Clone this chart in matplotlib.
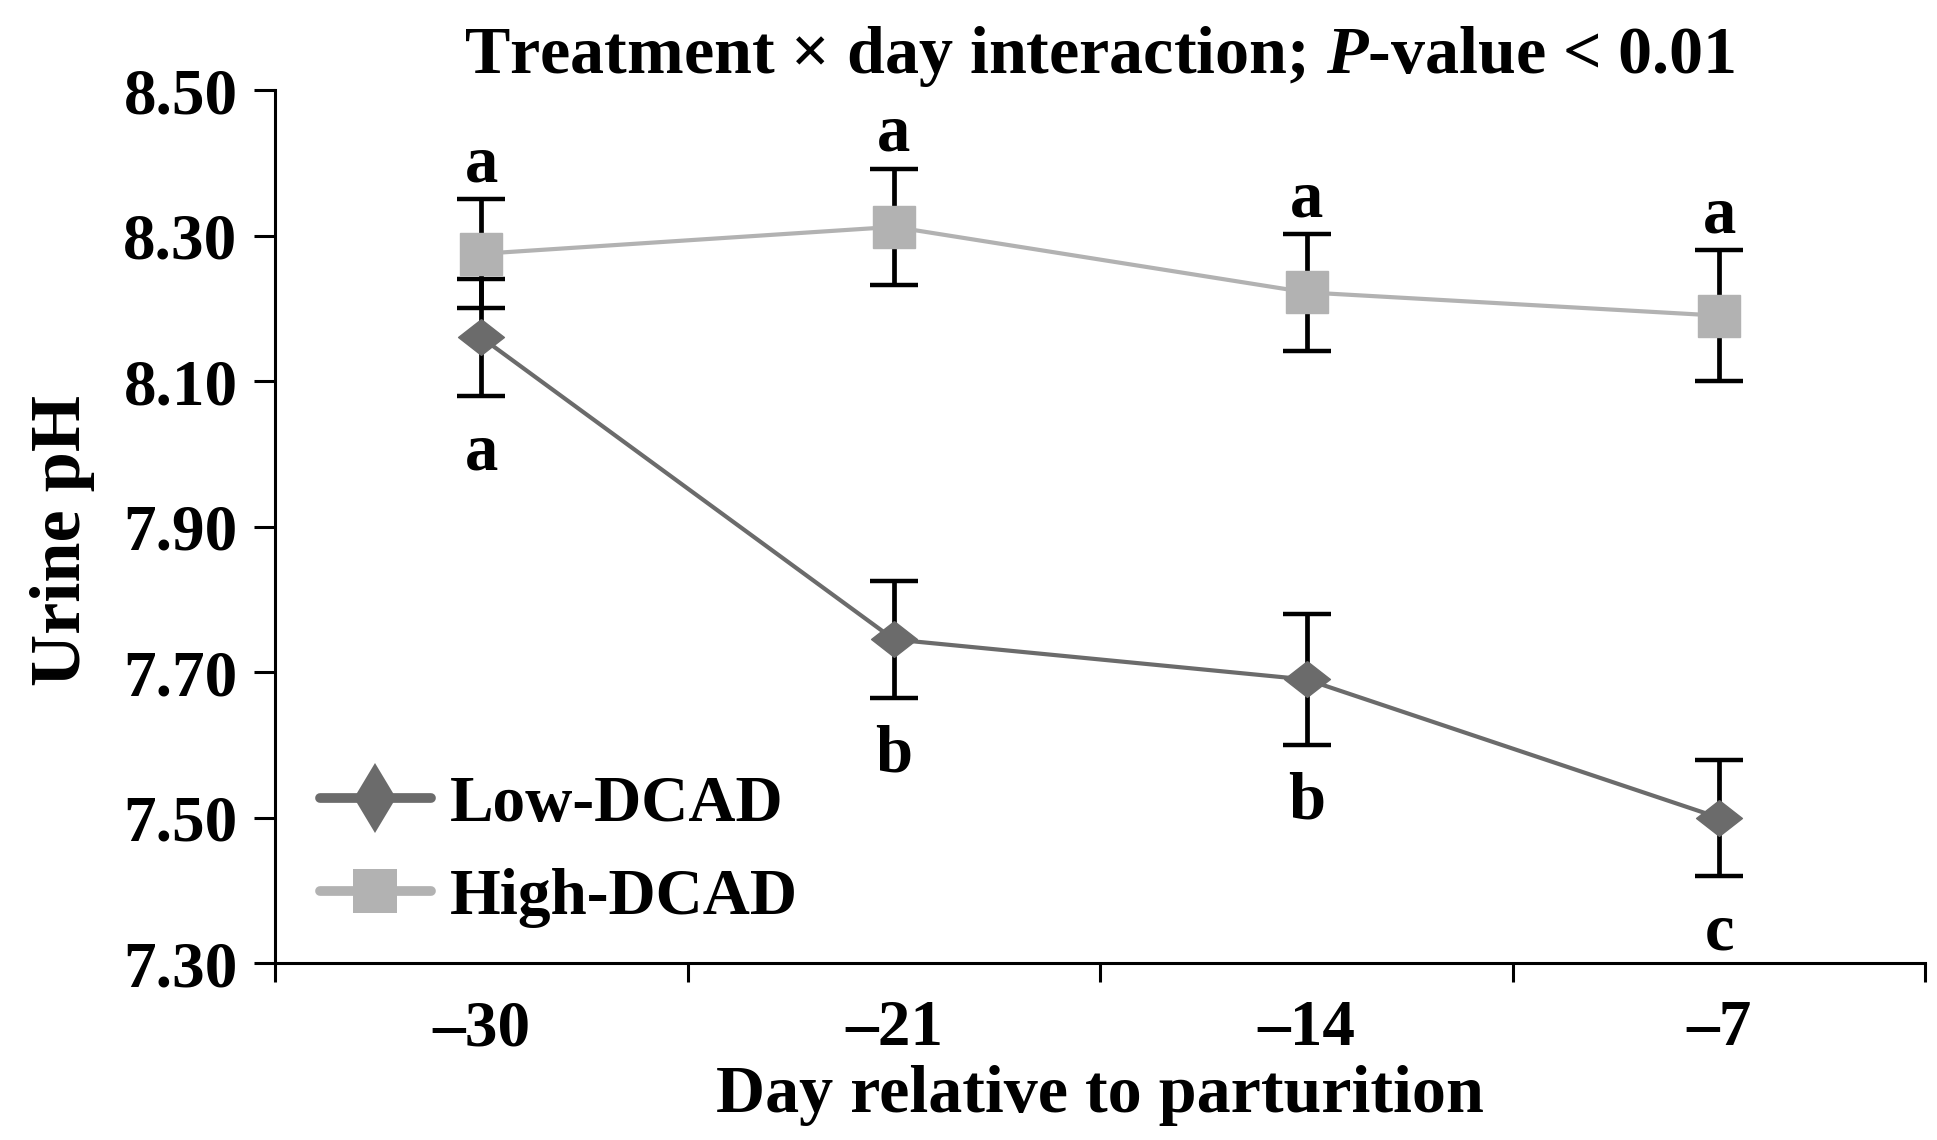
import matplotlib
matplotlib.use("Agg")
import matplotlib.pyplot as plt
from matplotlib.lines import Line2D

# ---- data ----
days = ["\u201330", "\u201321", "\u201314", "\u20137"]
low_mean = [8.16, 7.745, 7.69, 7.50]
low_se = [0.08, 0.08, 0.09, 0.08]
high_mean = [8.275, 8.312, 8.222, 8.19]
high_se = [0.075, 0.08, 0.08, 0.09]
low_letters = ["a", "b", "b", "c"]
high_letters = ["a", "a", "a", "a"]
y_ticks = [7.30, 7.50, 7.70, 7.90, 8.10, 8.30, 8.50]

plt.rcParams["font.family"] = "Liberation Serif"
plt.rcParams["font.weight"] = "bold"
plt.rcParams["mathtext.fontset"] = "custom"
plt.rcParams["mathtext.it"] = "Liberation Serif:bold:italic"
plt.rcParams["mathtext.rm"] = "Liberation Serif:bold"

low_col = "#6b6b6b"
high_col = "#b2b2b2"

fig = plt.figure(figsize=(19.37, 11.40), dpi=100)
ax = fig.add_axes([0.142, 0.155, 0.852, 0.766])

x = list(range(len(days)))
diamond = [(0, 0.78), (1, 0), (0, -0.78), (-1, 0), (0, 0.78)]

# low series
ax.plot(x, low_mean, color=low_col, lw=3, zorder=2)
ax.errorbar(x, low_mean, yerr=low_se, fmt="none", ecolor="black",
            elinewidth=3.4, capsize=17, capthick=3.2, zorder=3)
ax.plot(x, low_mean, ls="none", marker=diamond, ms=33, color=low_col, zorder=4)

# high series
ax.plot(x, high_mean, color=high_col, lw=3, zorder=5)
ax.errorbar(x, high_mean, yerr=high_se, fmt="none", ecolor="black",
            elinewidth=3.4, capsize=17, capthick=3.2, zorder=6)
ax.plot(x, high_mean, ls="none", marker="s", ms=30, color=high_col, zorder=7)

for xi, m, s, t in zip(x, high_mean, high_se, high_letters):
    ax.annotate(t, (xi, m + s), xytext=(0, 13), textcoords="offset points",
                ha="center", va="baseline", fontsize=48, fontweight="bold")
for xi, m, s, t in zip(x, low_mean, low_se, low_letters):
    ax.annotate(t, (xi, m - s), xytext=(0, -19), textcoords="offset points",
                ha="center", va="top", fontsize=48, fontweight="bold")

ax.set_xlim(-0.5, len(days) - 0.5)
ax.set_ylim(7.30, 8.50)
ax.set_yticks(y_ticks)
ax.set_yticklabels([f"{v:.2f}" for v in y_ticks])
ax.set_xticks([i - 0.5 for i in range(len(days) + 1)])
ax.set_xticklabels([])
ax.set_xticks(x, minor=True)
ax.set_xticklabels(days, minor=True)
ax.tick_params(axis="x", which="major", direction="out", length=14, width=2.2)
ax.tick_params(axis="x", which="minor", length=0, pad=26, labelsize=47)
ax.tick_params(axis="y", direction="out", length=15, width=2.2, pad=12, labelsize=47)

for sp in ["top", "right"]:
    ax.spines[sp].set_visible(False)
for sp in ["left", "bottom"]:
    ax.spines[sp].set_linewidth(2.2)

ax.set_ylabel("Urine pH", fontsize=52, fontweight="bold")
ax.yaxis.set_label_coords(-0.109, 0.484)
ax.set_xlabel("Day relative to parturition", fontsize=49, fontweight="bold", labelpad=4)
ax.set_title("Treatment \u00d7 day interaction; $P$-value < 0.01", fontsize=49,
             fontweight="bold", pad=12)

handles = [
    Line2D([], [], color=low_col, lw=7, solid_capstyle="round",
           marker="d", ms=36, markeredgewidth=0),
    Line2D([], [], color=high_col, lw=7, solid_capstyle="round",
           marker="s", ms=31, markeredgewidth=0),
]
ax.legend(handles, ["Low-DCAD", "High-DCAD"], loc="center left",
          bbox_to_anchor=(0.027, 0.128), frameon=False, fontsize=47,
          handlelength=1.7, handletextpad=0.3, labelspacing=0.5,
          borderpad=0, borderaxespad=0)

fig.savefig("out.png", dpi=100)
